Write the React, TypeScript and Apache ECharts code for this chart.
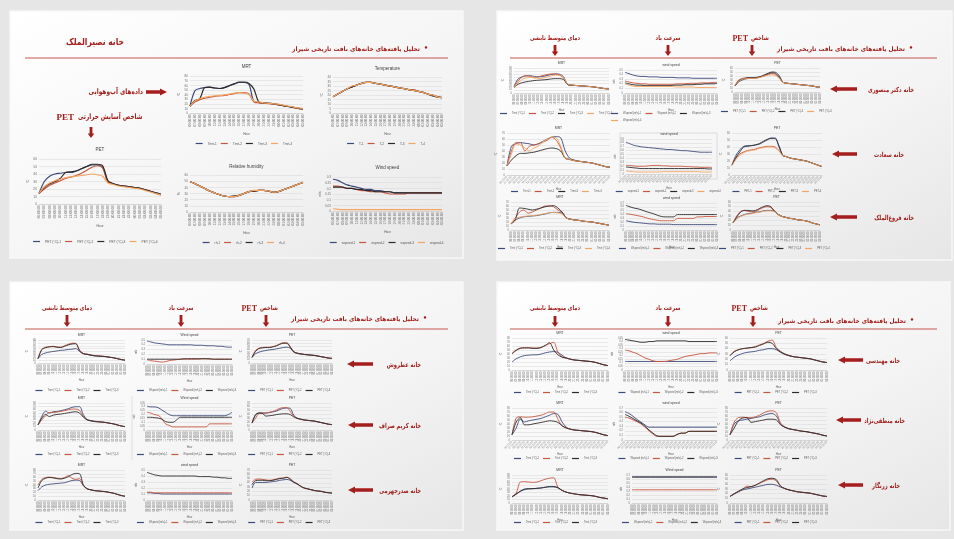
import React, { useEffect, useRef } from 'react';
import * as echarts from 'echarts';

// Hourly time axis shared by every small chart (06:00 through 05:00 next day)
const hours = [
  '06:00:00', '07:00:00', '08:00:00', '09:00:00', '10:00:00', '11:00:00',
  '12:00:00', '13:00:00', '14:00:00', '15:00:00', '16:00:00', '17:00:00',
  '18:00:00', '19:00:00', '20:00:00', '21:00:00', '22:00:00', '23:00:00',
  '00:00:00', '01:00:00', '02:00:00', '03:00:00', '04:00:00', '05:00:00',
];

// ---------- Nasir al-Molk house ----------
const nasirPet = [
  [14, 30, 37, 40, 41, 42, 42, 44, 47, 50, 52, 52, 49, 30, 27, 25, 24, 23, 22, 21, 19, 17, 15, 13],
  [14, 20, 25, 28, 31, 34, 36, 38, 41, 45, 49, 51, 48, 29, 27, 25, 24, 23, 22, 21, 19, 17, 14, 12],
  [14, 22, 27, 30, 34, 42, 43, 44, 47, 50, 53, 53, 51, 31, 27, 25, 24, 23, 22, 21, 19, 17, 15, 13],
  [14, 23, 28, 31, 33, 35, 36, 37, 38, 39, 40, 39, 37, 28, 26, 24, 23, 22, 21, 20, 18, 16, 14, 12],
];
const nasirMrt = [
  [15, 48, 53, 55, 56, 54, 53, 55, 59, 63, 66, 66, 62, 25, 23, 22, 21, 20, 18, 16, 14, 12, 10, 9],
  [15, 24, 29, 32, 34, 36, 37, 38, 40, 42, 44, 44, 41, 24, 22, 21, 20, 19, 18, 16, 14, 12, 10, 9],
  [15, 27, 31, 55, 56, 54, 53, 55, 59, 63, 67, 67, 64, 52, 24, 22, 21, 20, 18, 16, 14, 12, 10, 9],
  [15, 26, 31, 34, 36, 37, 38, 39, 41, 43, 44, 43, 40, 26, 24, 22, 21, 20, 19, 17, 15, 13, 11, 10],
];
const nasirTemp = [
  [18, 21, 24, 27, 29, 31, 33, 34, 34, 33, 32, 31, 30, 29, 28, 27, 26, 25, 24, 23, 21, 20, 18, 17],
  [18, 21, 24, 27, 29, 31, 33, 34, 34, 33, 32, 31, 30, 29, 28, 27, 26, 26, 24, 23, 21, 20, 18, 17],
  [18, 21, 24, 27, 29, 31, 33, 34, 34, 33, 32, 31, 30, 29, 28, 27, 26, 25, 24, 23, 21, 19, 18, 17],
  [18, 21, 24, 27, 30, 31, 33, 34, 34, 33, 32, 31, 30, 29, 28, 27, 26, 25, 24, 23, 21, 20, 18, 17],
];
const nasirRh = [
  [49, 46, 42, 38, 34, 31, 28, 26, 25, 25, 27, 30, 33, 34, 35, 35, 34, 32, 33, 36, 39, 42, 45, 48],
  [49, 46, 42, 38, 34, 31, 28, 26, 25, 25, 27, 30, 33, 34, 35, 35, 34, 32, 33, 36, 39, 42, 45, 48],
  [49, 46, 42, 38, 34, 31, 28, 26, 25, 26, 27, 30, 33, 34, 35, 35, 34, 32, 33, 36, 39, 42, 45, 48],
  [49, 46, 42, 38, 34, 31, 28, 26, 25, 25, 27, 30, 33, 35, 35, 35, 34, 32, 33, 36, 39, 42, 45, 48],
];
const nasirWind = [
  [0.28, 0.27, 0.25, 0.23, 0.22, 0.21, 0.2, 0.19, 0.19, 0.18, 0.18, 0.17, 0.17, 0.16, 0.16, 0.16, 0.16, 0.16, 0.16, 0.16, 0.16, 0.16, 0.16, 0.16],
  [0.22, 0.22, 0.21, 0.2, 0.2, 0.19, 0.18, 0.18, 0.17, 0.17, 0.17, 0.16, 0.15, 0.15, 0.15, 0.15, 0.16, 0.16, 0.16, 0.16, 0.16, 0.16, 0.16, 0.16],
  [0.21, 0.21, 0.21, 0.2, 0.2, 0.19, 0.19, 0.18, 0.18, 0.17, 0.17, 0.17, 0.17, 0.16, 0.16, 0.16, 0.16, 0.16, 0.16, 0.16, 0.16, 0.16, 0.16, 0.16],
  [0.02, 0.015, 0.012, 0.012, 0.012, 0.012, 0.012, 0.012, 0.012, 0.012, 0.012, 0.012, 0.012, 0.012, 0.012, 0.012, 0.012, 0.012, 0.012, 0.012, 0.012, 0.012, 0.012, 0.012],
];

// ---------- Dr. Mansouri house ----------
const mansouriMrt = [
  [22, 45, 52, 55, 55, 53, 52, 53, 56, 59, 61, 60, 52, 27, 25, 24, 23, 22, 21, 20, 18, 16, 14, 13],
  [20, 38, 52, 55, 54, 48, 52, 56, 59, 61, 61, 58, 48, 27, 25, 24, 23, 22, 21, 20, 18, 16, 14, 13],
  [18, 28, 33, 36, 38, 40, 41, 42, 43, 45, 46, 46, 43, 27, 25, 24, 23, 22, 21, 20, 18, 16, 14, 13],
  [18, 32, 44, 48, 50, 50, 46, 48, 51, 55, 57, 56, 50, 28, 26, 24, 23, 22, 21, 20, 18, 16, 14, 13],
];
const mansouriWind = [
  [0.45, 0.42, 0.39, 0.37, 0.36, 0.36, 0.35, 0.35, 0.35, 0.34, 0.34, 0.34, 0.34, 0.33, 0.33, 0.33, 0.33, 0.32, 0.32, 0.32, 0.32, 0.32, 0.32, 0.32],
  [0.26, 0.24, 0.22, 0.21, 0.2, 0.2, 0.19, 0.19, 0.19, 0.19, 0.19, 0.19, 0.19, 0.2, 0.2, 0.2, 0.21, 0.21, 0.21, 0.22, 0.22, 0.22, 0.23, 0.23],
  [0.22, 0.2, 0.18, 0.17, 0.17, 0.16, 0.16, 0.16, 0.16, 0.16, 0.16, 0.16, 0.17, 0.17, 0.17, 0.18, 0.18, 0.18, 0.19, 0.19, 0.2, 0.2, 0.2, 0.21],
  [0.2, 0.17, 0.15, 0.14, 0.14, 0.14, 0.14, 0.14, 0.14, 0.14, 0.14, 0.14, 0.14, 0.13, 0.13, 0.13, 0.13, 0.13, 0.12, 0.12, 0.12, 0.12, 0.12, 0.12],
];
const mansouriPet = [
  [15, 25, 30, 33, 34, 35, 36, 38, 42, 45, 48, 46, 36, 24, 22, 21, 20, 19, 18, 17, 16, 15, 13, 12],
  [16, 30, 34, 35, 35, 34, 35, 38, 40, 44, 46, 44, 35, 24, 22, 21, 20, 19, 18, 17, 16, 15, 13, 12],
  [15, 28, 32, 35, 36, 36, 37, 39, 43, 47, 50, 49, 40, 24, 22, 21, 20, 19, 18, 17, 16, 15, 13, 12],
  [16, 26, 32, 33, 34, 34, 35, 37, 40, 42, 43, 41, 34, 24, 22, 21, 20, 19, 18, 17, 16, 15, 13, 12],
];

// ---------- Saadat house ----------
const saadatMrt = [
  [15, 48, 52, 54, 53, 52, 50, 52, 56, 60, 63, 64, 62, 40, 28, 25, 23, 22, 21, 20, 18, 16, 14, 13],
  [15, 40, 54, 54, 40, 48, 50, 52, 55, 58, 63, 58, 45, 28, 26, 24, 23, 22, 21, 20, 18, 16, 14, 13],
  [15, 25, 32, 36, 36, 37, 38, 40, 42, 44, 45, 44, 40, 28, 26, 24, 23, 22, 21, 20, 18, 16, 14, 13],
  [15, 35, 52, 50, 45, 40, 45, 48, 55, 60, 63, 62, 48, 28, 26, 24, 23, 22, 21, 20, 18, 16, 14, 13],
];
const saadatWind = [
  [0.82, 0.78, 0.74, 0.72, 0.7, 0.69, 0.68, 0.67, 0.66, 0.65, 0.64, 0.63, 0.63, 0.62, 0.61, 0.6, 0.6, 0.59, 0.58, 0.57, 0.56, 0.56, 0.56, 0.56],
  [0.22, 0.22, 0.21, 0.2, 0.2, 0.2, 0.21, 0.22, 0.22, 0.22, 0.21, 0.21, 0.2, 0.2, 0.2, 0.2, 0.19, 0.19, 0.18, 0.18, 0.17, 0.17, 0.17, 0.16],
  [0.18, 0.17, 0.16, 0.15, 0.14, 0.14, 0.14, 0.14, 0.14, 0.14, 0.14, 0.14, 0.14, 0.14, 0.14, 0.14, 0.14, 0.14, 0.14, 0.14, 0.14, 0.14, 0.13, 0.13],
  [0.08, 0.07, 0.06, 0.05, 0.05, 0.05, 0.05, 0.05, 0.05, 0.05, 0.06, 0.06, 0.06, 0.06, 0.06, 0.06, 0.06, 0.06, 0.06, 0.06, 0.05, 0.05, 0.05, 0.05],
];
const saadatPet = [
  [14, 28, 36, 41, 42, 42, 43, 44, 47, 50, 53, 53, 40, 28, 26, 24, 23, 22, 21, 20, 18, 16, 14, 12],
  [14, 24, 30, 33, 35, 36, 37, 39, 40, 41, 41, 40, 35, 28, 26, 24, 23, 22, 21, 20, 18, 16, 14, 12],
  [14, 25, 33, 40, 41, 42, 43, 45, 48, 51, 52, 52, 42, 28, 26, 24, 23, 22, 21, 20, 18, 16, 14, 12],
  [14, 22, 28, 32, 34, 35, 36, 38, 39, 40, 40, 39, 34, 28, 26, 24, 23, 22, 21, 20, 18, 16, 14, 12],
];

// ---------- Forough al-Molk house ----------
const foroughMrt = [
  [15, 25, 30, 33, 34, 35, 36, 38, 40, 43, 44, 44, 42, 30, 27, 25, 24, 22, 21, 20, 18, 16, 14, 12],
  [15, 30, 45, 50, 42, 45, 50, 55, 60, 60, 58, 50, 44, 30, 27, 25, 24, 22, 21, 20, 18, 16, 14, 12],
  [15, 25, 55, 54, 52, 50, 52, 55, 58, 60, 61, 55, 45, 30, 27, 25, 24, 22, 21, 20, 18, 16, 14, 12],
  [15, 28, 32, 34, 35, 36, 37, 39, 41, 43, 44, 43, 40, 30, 27, 25, 24, 22, 21, 20, 18, 16, 14, 12],
];
const foroughWind = [
  [0.24, 0.22, 0.2, 0.19, 0.18, 0.17, 0.16, 0.16, 0.15, 0.15, 0.15, 0.15, 0.14, 0.14, 0.14, 0.14, 0.14, 0.14, 0.14, 0.14, 0.14, 0.14, 0.14, 0.14],
  [0.42, 0.41, 0.39, 0.37, 0.35, 0.32, 0.29, 0.27, 0.25, 0.24, 0.24, 0.24, 0.24, 0.3, 0.3, 0.3, 0.3, 0.3, 0.34, 0.34, 0.35, 0.35, 0.35, 0.35],
  [0.64, 0.6, 0.57, 0.55, 0.52, 0.48, 0.45, 0.42, 0.38, 0.35, 0.34, 0.34, 0.34, 0.4, 0.4, 0.4, 0.4, 0.4, 0.4, 0.4, 0.4, 0.4, 0.4, 0.4],
];
const foroughPet = [
  [15, 25, 30, 33, 35, 36, 38, 39, 41, 42, 42, 40, 33, 29, 27, 25, 24, 22, 21, 20, 18, 15, 13, 11],
  [15, 30, 40, 42, 40, 39, 40, 44, 48, 50, 48, 40, 33, 29, 27, 25, 24, 22, 21, 20, 18, 15, 13, 11],
  [15, 28, 38, 42, 42, 41, 42, 46, 50, 52, 50, 40, 33, 29, 27, 25, 24, 22, 21, 20, 18, 15, 13, 11],
  [15, 24, 29, 32, 34, 35, 37, 38, 40, 41, 41, 39, 33, 29, 27, 25, 24, 22, 21, 20, 18, 15, 13, 11],
];

// ---------- Atrvash house ----------
const atrMrt = [
  [15, 30, 35, 38, 40, 42, 44, 45, 47, 48, 50, 40, 33, 30, 27, 25, 24, 23, 22, 20, 18, 15, 12, 10],
  [15, 48, 55, 57, 58, 56, 55, 60, 65, 69, 68, 45, 33, 31, 28, 26, 25, 24, 22, 20, 18, 15, 12, 10],
  [15, 46, 53, 56, 57, 55, 54, 58, 63, 66, 67, 42, 32, 30, 27, 25, 24, 23, 22, 20, 18, 15, 12, 10],
];
const atrWind = [
  [0.48, 0.46, 0.44, 0.43, 0.42, 0.41, 0.4, 0.4, 0.4, 0.4, 0.4, 0.4, 0.4, 0.39, 0.39, 0.39, 0.38, 0.38, 0.38, 0.37, 0.37, 0.36, 0.35, 0.35],
  [0.09, 0.07, 0.06, 0.05, 0.04, 0.05, 0.07, 0.08, 0.09, 0.1, 0.1, 0.1, 0.1, 0.1, 0.1, 0.11, 0.11, 0.1, 0.1, 0.1, 0.1, 0.1, 0.1, 0.1],
  [0.1, 0.1, 0.1, 0.1, 0.1, 0.1, 0.1, 0.1, 0.1, 0.1, 0.11, 0.11, 0.11, 0.11, 0.11, 0.11, 0.11, 0.11, 0.1, 0.1, 0.1, 0.1, 0.1, 0.1],
];
const atrPet = [
  [17, 28, 33, 36, 38, 40, 41, 43, 45, 47, 48, 45, 33, 29, 27, 26, 25, 24, 23, 21, 19, 17, 15, 14],
  [17, 38, 45, 47, 48, 48, 50, 53, 58, 62, 62, 50, 35, 30, 28, 26, 25, 24, 23, 21, 19, 17, 15, 14],
  [17, 35, 44, 46, 47, 47, 49, 52, 57, 60, 60, 48, 34, 30, 28, 26, 25, 24, 23, 21, 19, 17, 15, 14],
];

// ---------- Karim Saraf house ----------
const karimMrt = [
  [15, 40, 56, 50, 54, 55, 57, 60, 63, 67, 69, 69, 45, 31, 28, 26, 25, 24, 22, 20, 18, 15, 12, 10],
  [15, 30, 42, 52, 52, 53, 55, 57, 60, 62, 62, 58, 40, 30, 27, 25, 24, 23, 22, 20, 18, 15, 12, 10],
  [15, 35, 46, 40, 44, 46, 47, 49, 51, 53, 54, 50, 38, 30, 27, 25, 24, 23, 22, 20, 18, 15, 12, 10],
];
const karimWind = [
  [0.31, 0.3, 0.3, 0.29, 0.26, 0.23, 0.2, 0.185, 0.185, 0.185, 0.185, 0.185, 0.185, 0.185, 0.185, 0.185, 0.185, 0.185, 0.185, 0.185, 0.185, 0.185, 0.2, 0.23],
  [0.23, 0.22, 0.2, 0.19, 0.15, 0.08, 0.06, 0.04, 0.04, 0.04, 0.04, 0.04, 0.04, 0.04, 0.04, 0.04, 0.04, 0.08, 0.08, 0.08, 0.08, 0.08, 0.08, 0.08],
  [0.165, 0.165, 0.16, 0.155, 0.14, 0.11, 0.1, 0.1, 0.13, 0.165, 0.165, 0.165, 0.165, 0.165, 0.165, 0.165, 0.165, 0.165, 0.165, 0.165, 0.165, 0.165, 0.165, 0.165],
];
const karimPet = [
  [18, 38, 44, 44, 44, 45, 47, 49, 53, 56, 57, 56, 38, 31, 28, 26, 25, 24, 23, 21, 19, 17, 15, 14],
  [18, 30, 43, 44, 44, 46, 48, 52, 56, 58, 58, 48, 36, 30, 28, 26, 25, 24, 23, 21, 19, 17, 15, 14],
  [18, 40, 44, 43, 36, 37, 38, 40, 41, 42, 42, 40, 34, 30, 28, 26, 25, 24, 23, 21, 19, 17, 15, 14],
];

// ---------- Sadr Jahromi house ----------
const sadrMrt = [
  [25, 35, 40, 42, 43, 44, 45, 46, 49, 52, 53, 52, 38, 30, 27, 25, 24, 23, 22, 20, 18, 15, 12, 10],
  [40, 55, 60, 61, 60, 58, 57, 60, 65, 58, 55, 57, 38, 30, 27, 25, 24, 23, 22, 20, 18, 15, 12, 10],
  [32, 52, 58, 60, 59, 57, 56, 58, 62, 68, 71, 70, 40, 30, 27, 25, 24, 23, 22, 20, 18, 15, 12, 10],
];
const sadrWind = [
  [0.12, 0.12, 0.11, 0.11, 0.1, 0.1, 0.1, 0.1, 0.1, 0.1, 0.1, 0.1, 0.1, 0.1, 0.1, 0.1, 0.1, 0.1, 0.1, 0.1, 0.1, 0.1, 0.1, 0.1],
  [0.13, 0.13, 0.12, 0.12, 0.12, 0.12, 0.12, 0.12, 0.12, 0.12, 0.12, 0.12, 0.12, 0.12, 0.12, 0.12, 0.12, 0.12, 0.12, 0.12, 0.12, 0.12, 0.12, 0.12],
  [0.46, 0.44, 0.42, 0.41, 0.4, 0.4, 0.4, 0.4, 0.4, 0.4, 0.4, 0.4, 0.4, 0.4, 0.39, 0.39, 0.39, 0.39, 0.38, 0.38, 0.37, 0.37, 0.36, 0.36],
];
const sadrPet = [
  [28, 41, 41, 41, 41, 42, 43, 44, 46, 47, 48, 46, 41, 37, 32, 28, 26, 24, 22, 21, 20, 18, 17, 16],
  [42, 48, 49, 48, 47, 46, 47, 49, 51, 51, 53, 50, 42, 38, 32, 28, 26, 24, 22, 21, 20, 18, 17, 16],
  [36, 45, 46, 46, 45, 45, 46, 48, 50, 51, 53, 48, 42, 38, 32, 28, 26, 24, 22, 21, 20, 18, 17, 16],
];

// ---------- Mohandesi house ----------
const mohMrt = [
  [20, 28, 33, 36, 37, 38, 38, 40, 43, 45, 46, 44, 37, 30, 27, 25, 24, 23, 22, 21, 19, 16, 13, 11],
  [42, 50, 55, 56, 56, 55, 55, 57, 61, 66, 69, 45, 33, 30, 27, 25, 24, 23, 22, 21, 19, 16, 13, 11],
  [40, 49, 54, 55, 55, 54, 54, 56, 62, 68, 50, 38, 32, 30, 27, 25, 24, 23, 22, 21, 19, 16, 13, 11],
];
const mohWind = [
  [0.12, 0.12, 0.12, 0.12, 0.12, 0.12, 0.12, 0.12, 0.12, 0.12, 0.12, 0.12, 0.12, 0.12, 0.12, 0.12, 0.12, 0.12, 0.12, 0.12, 0.12, 0.12, 0.12, 0.12],
  [0.28, 0.27, 0.25, 0.23, 0.2, 0.17, 0.15, 0.13, 0.12, 0.12, 0.12, 0.13, 0.14, 0.15, 0.17, 0.19, 0.2, 0.21, 0.22, 0.23, 0.23, 0.24, 0.24, 0.24],
  [0.43, 0.42, 0.41, 0.4, 0.39, 0.39, 0.4, 0.4, 0.41, 0.41, 0.41, 0.41, 0.41, 0.41, 0.41, 0.41, 0.4, 0.4, 0.4, 0.4, 0.4, 0.4, 0.4, 0.4],
];
const mohPet = [
  [17, 24, 28, 31, 33, 34, 35, 37, 38, 40, 40, 38, 33, 29, 27, 25, 24, 23, 22, 21, 19, 17, 15, 14],
  [27, 35, 38, 40, 41, 42, 44, 47, 50, 54, 56, 42, 35, 30, 27, 25, 24, 23, 22, 21, 19, 17, 15, 14],
  [27, 34, 38, 40, 41, 42, 43, 46, 49, 52, 50, 40, 34, 30, 27, 25, 24, 23, 22, 21, 19, 17, 15, 14],
];

// ---------- Manteghi-Nejad house ----------
const mantMrt = [
  [13, 30, 52, 45, 48, 50, 52, 54, 58, 62, 66, 64, 45, 32, 27, 25, 24, 23, 22, 21, 19, 16, 13, 11],
  [13, 55, 58, 57, 57, 58, 60, 62, 66, 70, 70, 52, 35, 30, 27, 25, 24, 23, 22, 21, 19, 16, 13, 11],
  [13, 45, 56, 38, 38, 40, 42, 44, 46, 48, 47, 44, 36, 30, 27, 25, 24, 23, 22, 21, 19, 16, 13, 11],
];
const mantWind = [
  [0.62, 0.58, 0.52, 0.45, 0.39, 0.33, 0.28, 0.28, 0.28, 0.28, 0.28, 0.28, 0.28, 0.28, 0.28, 0.28, 0.28, 0.28, 0.28, 0.28, 0.28, 0.28, 0.28, 0.28],
  [0.5, 0.48, 0.44, 0.4, 0.35, 0.28, 0.2, 0.13, 0.08, 0.08, 0.08, 0.08, 0.08, 0.12, 0.15, 0.15, 0.19, 0.19, 0.19, 0.19, 0.19, 0.19, 0.19, 0.19],
  [0.56, 0.52, 0.47, 0.42, 0.37, 0.3, 0.22, 0.15, 0.09, 0.08, 0.08, 0.08, 0.08, 0.12, 0.15, 0.15, 0.19, 0.19, 0.19, 0.19, 0.19, 0.19, 0.19, 0.19],
];
const mantPet = [
  [13, 40, 48, 50, 52, 54, 56, 58, 62, 65, 66, 60, 40, 32, 28, 26, 24, 22, 21, 19, 17, 15, 12, 10],
  [13, 45, 56, 57, 56, 56, 58, 62, 68, 72, 73, 68, 42, 33, 28, 26, 24, 22, 21, 19, 17, 15, 12, 10],
  [13, 30, 48, 55, 56, 44, 46, 48, 50, 52, 52, 50, 38, 32, 28, 26, 24, 22, 21, 19, 17, 15, 12, 10],
];

// ---------- Zarnegar house ----------
const zarMrt = [
  [17, 25, 33, 38, 40, 41, 42, 43, 45, 46, 46, 43, 36, 31, 28, 26, 24, 23, 22, 21, 19, 16, 14, 12],
  [18, 28, 60, 61, 60, 59, 60, 64, 68, 71, 72, 45, 36, 31, 28, 26, 24, 23, 22, 21, 19, 16, 14, 12],
  [18, 26, 34, 40, 41, 41, 42, 43, 45, 47, 47, 44, 36, 31, 28, 26, 24, 23, 22, 21, 19, 16, 14, 12],
];
const zarWind = [
  [0.65, 0.65, 0.65, 0.65, 0.65, 0.65, 0.65, 0.65, 0.65, 0.65, 0.65, 0.65, 0.65, 0.65, 0.65, 0.65, 0.65, 0.65, 0.65, 0.65, 0.65, 0.65, 0.65, 0.65],
  [0.33, 0.33, 0.33, 0.33, 0.33, 0.33, 0.33, 0.33, 0.33, 0.33, 0.33, 0.33, 0.33, 0.33, 0.33, 0.33, 0.33, 0.33, 0.33, 0.33, 0.33, 0.33, 0.33, 0.33],
  [0.65, 0.65, 0.65, 0.65, 0.65, 0.65, 0.65, 0.65, 0.65, 0.65, 0.65, 0.65, 0.65, 0.65, 0.65, 0.65, 0.65, 0.65, 0.65, 0.65, 0.65, 0.65, 0.65, 0.65],
];
const zarPet = [
  [14, 19, 24, 28, 30, 32, 34, 36, 38, 40, 40, 38, 34, 31, 28, 26, 24, 23, 22, 21, 19, 17, 15, 14],
  [14, 20, 25, 30, 36, 35, 38, 42, 46, 50, 51, 47, 36, 31, 28, 26, 24, 23, 22, 21, 19, 17, 15, 14],
  [14, 20, 25, 30, 33, 35, 38, 43, 48, 52, 53, 50, 36, 31, 28, 26, 24, 23, 22, 21, 19, 17, 15, 14],
];

// Legend labels
const petNames = ['PET (°C)-1', 'PET (°C)-2', 'PET (°C)-3', 'PET (°C)-4'];
const tmrtNames = ['Tmrt-1', 'Tmrt-2', 'Tmrt-3', 'Tmrt-4'];
const tNames = ['T-1', 'T-2', 'T-3', 'T-4'];
const rhNames = ['rh-1', 'rh-2', 'rh-3', 'rh-4'];
const wsNames = ['wspeed-1', 'wspeed-2', 'wspeed-3', 'wspeed-4'];
const mrtNames = ['Tmrt (°C)-1', 'Tmrt (°C)-2', 'Tmrt (°C)-3', 'Tmrt (°C)-4'];
const windNames = ['Wspeed (m/s)-1', 'Wspeed (m/s)-2', 'Wspeed (m/s)-3', 'Wspeed (m/s)-4'];
const petShort = ['PET-1', 'PET-2', 'PET-3', 'PET-4'];

const COLORS = ['#3b4a7a', '#c8553d', '#2d2929', '#f2a661'];
const RED_TEXT = '#a3201c';
const ARROW_RED = '#a51e1e';
const RULE = '#c6564a';

// Layout of every small chart: [left, top, width, height] in page pixels
const panels = [
  // Nasir al-Molk
  { title: 'PET', box: [39, 159, 122, 45], y: [0, 60, 10], unit: '°C', data: nasirPet, names: petNames, legendTop: 240, fs: 3.3, hourGap: 20, titleGap: 10, tfs: 4.5 },
  { title: 'MRT', box: [190, 76, 113, 37], y: [0, 80, 10], unit: '°C', data: nasirMrt, names: tmrtNames, legendTop: 142, fs: 3.1, hourGap: 19, titleGap: 10, tfs: 4.5 },
  { title: 'Temperature', box: [333, 77, 109, 36], y: [0, 40, 5], unit: '°C', data: nasirTemp, names: tNames, legendTop: 142, fs: 3.1, hourGap: 19, titleGap: 9, tfs: 4.5 },
  { title: 'Relative humidity', box: [190, 175, 113, 37], y: [0, 60, 10], unit: '%', data: nasirRh, names: rhNames, legendTop: 241, fs: 3.1, hourGap: 19, titleGap: 9, tfs: 4.5 },
  { title: 'Wind speed', box: [333, 177, 109, 34], y: [0, 0.3, 0.05], unit: 'm/s', data: nasirWind, names: wsNames, legendTop: 241, fs: 3.1, hourGap: 19, titleGap: 10, tfs: 4.5 },
  // Dr. Mansouri
  { title: 'MRT', box: [514, 68, 95, 25], y: [0, 80, 10], unit: '°C', data: mansouriMrt, names: mrtNames, legendTop: 112 },
  { title: 'wind speed', box: [625, 70, 92, 23], y: [0, 0.5, 0.1], unit: 'm/s', data: mansouriWind, names: windNames, legendTop: 112 },
  { title: 'PET', box: [735, 68, 85, 24], y: [0, 60, 10], unit: '°C', data: mansouriPet, names: petNames, legendTop: 110 },
  // Saadat
  { title: 'MRT', box: [507, 133, 103, 42], y: [0, 70, 10], unit: '°C', data: saadatMrt, names: tmrtNames, legendTop: 190, rotate: 45 },
  { title: 'wind speed', box: [626, 139, 86, 35], y: [0, 0.9, 0.1], unit: 'm/s', data: saadatWind, names: wsNames, legendTop: 190, rotate: 45 },
  { title: 'PET', box: [732, 133, 90, 42], y: [0, 60, 10], unit: '°C', data: saadatPet, names: petShort, legendTop: 190, rotate: 45 },
  // Forough al-Molk
  { title: 'MRT', box: [511, 202, 98, 28], y: [0, 70, 10], unit: '°C', data: foroughMrt, names: mrtNames, legendTop: 247 },
  { title: 'wind speed', box: [626, 203, 91, 27], y: [0, 0.7, 0.1], unit: 'm/s', data: foroughWind, names: windNames, legendTop: 247 },
  { title: 'PET', box: [733, 202, 87, 28], y: [0, 60, 10], unit: '°C', data: foroughPet, names: petNames, legendTop: 247 },
  // Atrvash
  { title: 'MRT', box: [38, 340, 87, 23], y: [0, 80, 10], unit: '°C', data: atrMrt, names: mrtNames, legendTop: 389 },
  { title: 'Wind speed', box: [147, 340, 85, 24], y: [0, 0.5, 0.1], unit: 'm/s', data: atrWind, names: windNames, legendTop: 389 },
  { title: 'PET', box: [252, 340, 80, 23], y: [0, 70, 10], unit: '°C', data: atrPet, names: petNames, legendTop: 389 },
  // Karim Saraf
  { title: 'MRT', box: [38, 403, 87, 27], y: [0, 80, 10], unit: '°C', data: karimMrt, names: mrtNames, legendTop: 453 },
  { title: 'Wind speed', box: [147, 403, 85, 27], y: [0, 0.35, 0.05], unit: 'm/s', data: karimWind, names: windNames, legendTop: 453 },
  { title: 'PET', box: [252, 403, 80, 27], y: [0, 70, 10], unit: '°C', data: karimPet, names: petNames, legendTop: 453 },
  // Sadr Jahromi
  { title: 'MRT', box: [38, 470, 87, 30], y: [0, 80, 10], unit: '°C', data: sadrMrt, names: mrtNames, legendTop: 521 },
  { title: 'wind speed', box: [147, 470, 85, 30], y: [0, 0.5, 0.1], unit: 'm/s', data: sadrWind, names: windNames, legendTop: 521 },
  { title: 'PET', box: [252, 470, 80, 30], y: [0, 70, 10], unit: '°C', data: sadrPet, names: petNames, legendTop: 521 },
  // Mohandesi
  { title: 'MRT', box: [512, 338, 96, 32], y: [0, 80, 10], unit: '°C', data: mohMrt, names: mrtNames, legendTop: 391 },
  { title: 'wind speed', box: [625, 338, 92, 32], y: [0, 0.45, 0.05], unit: 'm/s', data: mohWind, names: windNames, legendTop: 391 },
  { title: 'PET', box: [730, 338, 97, 32], y: [0, 60, 10], unit: '°C', data: mohPet, names: petNames, legendTop: 391 },
  // Manteghi-Nejad
  { title: 'MRT', box: [512, 408, 96, 32], y: [0, 80, 10], unit: '°C', data: mantMrt, names: mrtNames, legendTop: 457, rotate: 45 },
  { title: 'wind speed', box: [625, 408, 92, 32], y: [0, 0.7, 0.1], unit: 'm/s', data: mantWind, names: windNames, legendTop: 457, rotate: 45 },
  { title: 'PET', box: [730, 408, 97, 32], y: [0, 80, 10], unit: '°C', data: mantPet, names: petNames, legendTop: 457, rotate: 45 },
  // Zarnegar
  { title: 'MRT', box: [512, 475, 96, 28], y: [0, 80, 10], unit: '°C', data: zarMrt, names: mrtNames, legendTop: 521 },
  { title: 'Wind speed', box: [632, 475, 85, 28], y: [0, 0.7, 0.1], unit: 'm/s', data: zarWind, names: windNames, legendTop: 521 },
  { title: 'PET', box: [730, 475, 97, 28], y: [0, 60, 10], unit: '°C', data: zarPet, names: petNames, legendTop: 521 },
];

function legendWidth(names: string[], fs: number) {
  return names.reduce((s, n) => s + 7 + 5 + n.length * fs * 0.56, 0) + 4 * (names.length - 1);
}

// Persian heading text, squeezed horizontally around its anchor point
const fa = (text: string, x: number, y: number, size: number, align = 'center', sx = 0.78) => ({
  type: 'text', z: 20, x, y, scaleX: sx,
  style: { text, x: 0, y: 0, fill: RED_TEXT, fontSize: size, fontWeight: 'bold', fontFamily: 'DejaVu Sans', textAlign: align, textVerticalAlign: 'middle' },
});
const serif = (text: string, x: number, y: number, size: number, align = 'center') => ({
  type: 'text', z: 20,
  style: { text, x, y, fill: RED_TEXT, fontSize: size, fontWeight: 'bold', fontFamily: 'Liberation Serif', textAlign: align, textVerticalAlign: 'middle' },
});
const rule = (x1: number, x2: number, y: number) => ({
  type: 'line', z: 20, shape: { x1, y1: y, x2, y2: y }, style: { stroke: RULE, lineWidth: 1 },
});
const arrowLeft = (x0: number, x1: number, y: number) => ({
  type: 'polygon', z: 20,
  shape: { points: [[x0, y], [x0 + 7, y - 3.6], [x0 + 7, y - 1.7], [x1, y - 1.7], [x1, y + 1.7], [x0 + 7, y + 1.7], [x0 + 7, y + 3.6]] },
  style: { fill: ARROW_RED },
});
const arrowRight = (x0: number, x1: number, y: number) => ({
  type: 'polygon', z: 20,
  shape: { points: [[x1, y], [x1 - 7, y - 3.6], [x1 - 7, y - 1.7], [x0, y - 1.7], [x0, y + 1.7], [x1 - 7, y + 1.7], [x1 - 7, y + 3.6]] },
  style: { fill: ARROW_RED },
});
const arrowDown = (x: number, y0: number, y1: number) => ({
  type: 'polygon', z: 20,
  shape: { points: [[x, y1], [x - 3.3, y1 - 4.5], [x - 1.4, y1 - 4.5], [x - 1.4, y0], [x + 1.4, y0], [x + 1.4, y1 - 4.5], [x + 3.3, y1 - 4.5]] },
  style: { fill: ARROW_RED },
});
const slide = (x: number, y: number, w: number, h: number) => ({
  type: 'rect', z: -10, shape: { x, y, width: w, height: h },
  style: {
    fill: new echarts.graphic.LinearGradient(0, 0, 1, 1, [
      { offset: 0, color: '#ffffff' },
      { offset: 0.6, color: '#f4f4f4' },
      { offset: 1, color: '#e6e6e6' },
    ]),
    stroke: '#f8f8f8', lineWidth: 1.5,
  },
});

const SUBTITLE = 'تحلیل یافته‌های خانه‌های بافت تاریخی شیراز';

// Column headers shared by the three comparison slides
function columnHeads(mrtX: number, windX: number, petX: number, arrowPet: number, y: number, ay0: number, ay1: number) {
  return [
    fa('دمای متوسط تابشی', mrtX, y, 6.5, 'center', 0.77),
    arrowDown(mrtX, ay0, ay1),
    fa('سرعت باد', windX, y, 6.5, 'center', 0.77),
    arrowDown(windX, ay0, ay1),
    serif('PET', petX - 1, y, 8, 'right'),
    fa('شاخص', petX + 2, y, 6.5, 'left', 0.8),
    arrowDown(arrowPet, ay0, ay1),
  ];
}

function buildGraphics() {
  return [
    { type: 'rect', z: -20, shape: { x: 0, y: 0, width: 954, height: 539 }, style: { fill: '#e6e6e6' } },
    slide(10, 11, 453, 247),
    slide(497, 11, 455, 249),
    slide(10, 282, 453, 248),
    slide(497, 282, 453, 248),

    // Slide: Nasir al-Molk
    fa('خانه نصیرالملک', 95, 42, 9.5, 'center', 0.8),
    fa('•', 426, 48, 7, 'center', 1),
    fa(SUBTITLE, 420, 48, 6.3, 'right', 0.93),
    rule(25, 448, 58),
    fa('داده‌های آب‌وهوایی', 143, 92, 7.5, 'right', 0.78),
    arrowRight(146, 167, 92),
    serif('PET', 74, 117, 9, 'right'),
    fa('شاخص آسایش حرارتی', 78, 117, 7.5, 'left', 0.76),
    arrowDown(91, 127, 138),

    // Slide: Mansouri / Saadat / Forough al-Molk
    ...columnHeads(555, 668, 749, 752, 38, 45, 56),
    fa('•', 911, 48, 7, 'center', 1),
    fa(SUBTITLE, 905, 48, 6.3, 'right', 0.93),
    rule(510, 937, 58),
    arrowLeft(830, 857, 89), fa('خانه دکتر منصوری', 914, 89, 6.8, 'right', 0.75),
    arrowLeft(832, 857, 154), fa('خانه سعادت', 904, 154, 6.8, 'right', 0.75),
    arrowLeft(830, 857, 217), fa('خانه فروغ‌الملک', 914, 217, 6.8, 'right', 0.75),
    { type: 'rect', z: 1, shape: { x: 620, y: 133, width: 97, height: 46 }, style: { fill: 'none', stroke: '#c9c9c9', lineWidth: 0.6 } },

    // Slide: Atrvash / Karim Saraf / Sadr Jahromi
    ...columnHeads(67, 181, 258, 266, 308, 315, 327),
    fa('•', 425, 318, 7, 'center', 1),
    fa(SUBTITLE, 419, 318, 6.3, 'right', 0.93),
    rule(25, 448, 329),
    arrowLeft(347, 373, 364), fa('خانه عطروش', 421, 364, 6.8, 'right', 0.75),
    arrowLeft(348, 373, 425), fa('خانه کریم صراف', 421, 425, 6.8, 'right', 0.75),
    arrowLeft(348, 373, 490), fa('خانه صدرجهرمی', 421, 490, 6.8, 'right', 0.75),
    { type: 'line', z: 1, shape: { x1: 132, y1: 396, x2: 132, y2: 460 }, style: { stroke: '#d2d2d2', lineWidth: 0.6 } },

    // Slide: Mohandesi / Manteghi-Nejad / Zarnegar
    ...columnHeads(555, 668, 748, 753, 308, 316, 327),
    fa('•', 912, 320, 7, 'center', 1),
    fa(SUBTITLE, 906, 320, 6.3, 'right', 0.93),
    rule(510, 937, 329),
    arrowLeft(838, 863, 360), fa('خانه مهندسی', 900, 360, 6.8, 'right', 0.75),
    arrowLeft(836, 861, 420), fa('خانه منطقی‌نژاد', 905, 420, 6.8, 'right', 0.75),
    arrowLeft(838, 863, 485), fa('خانه زرنگار', 900, 485, 6.8, 'right', 0.75),
  ];
}

function buildOption() {
  const grid: any[] = [];
  const xAxis: any[] = [];
  const yAxis: any[] = [];
  const series: any[] = [];
  const legend: any[] = [];
  const titles: any[] = [];

  panels.forEach((p: any, i: number) => {
    const [l, t, w, h] = p.box;
    const fs = p.fs ?? 2.6;
    const big = fs > 3;
    grid.push({ left: l, top: t, width: w, height: h });
    xAxis.push({
      type: 'category', gridIndex: i, data: hours, boundaryGap: false,
      axisLine: { lineStyle: { color: '#c4c4c4', width: 0.5 } },
      axisTick: { show: false },
      axisLabel: { interval: 0, rotate: p.rotate ?? 90, fontSize: fs, color: '#6f6f6f', margin: 1.5 },
      name: 'Hour', nameLocation: 'middle', nameGap: p.hourGap ?? (p.rotate ? 11 : 14.5),
      nameTextStyle: { fontSize: fs, color: '#595959' },
    });
    yAxis.push({
      type: 'value', gridIndex: i, min: p.y[0], max: p.y[1], interval: p.y[2],
      axisLine: { show: false }, axisTick: { show: false },
      axisLabel: { fontSize: fs, color: '#6f6f6f', margin: 2 },
      splitLine: { lineStyle: { color: '#d6d6d6', width: 0.5 } },
      name: p.unit, nameLocation: 'middle', nameRotate: 90, nameGap: big ? 10 : 8,
      nameTextStyle: { fontSize: fs, color: '#595959' },
    });
    p.data.forEach((d: number[], k: number) => {
      series.push({
        type: 'line', name: p.names[k], xAxisIndex: i, yAxisIndex: i, data: d,
        smooth: 0.3, symbol: 'none', showSymbol: false,
        lineStyle: { width: big ? 1.2 : 0.9, color: COLORS[k] },
        itemStyle: { color: COLORS[k] },
      });
    });
    const names = p.names.slice(0, p.data.length);
    const maxW = w + 28;
    const lw = Math.min(legendWidth(names, fs), maxW);
    legend.push({
      data: names, top: p.legendTop, left: l + w / 2 - lw / 2, width: maxW,
      icon: 'rect', itemWidth: 7, itemHeight: 1.2, itemGap: 4, padding: 0,
      selectedMode: false,
      textStyle: { fontSize: fs, color: '#595959' },
    });
    titles.push({
      type: 'text', z: 20,
      style: {
        text: p.title, x: l + w / 2, y: t - (p.titleGap ?? 5),
        fill: '#404040', fontSize: p.tfs ?? 3.4, fontFamily: 'Liberation Sans',
        textAlign: 'center', textVerticalAlign: 'middle',
      },
    });
  });

  return {
    animation: false,
    textStyle: { fontFamily: 'Liberation Sans' },
    graphic: [...buildGraphics(), ...titles],
    grid, xAxis, yAxis, series, legend,
  };
}

export default function App() {
  const ref = useRef<HTMLDivElement>(null);
  useEffect(() => {
    if (!ref.current) return;
    const chart = echarts.init(ref.current, undefined, { renderer: 'svg' });
    chart.setOption(buildOption());
    return () => chart.dispose();
  }, []);
  return (
    <div
      ref={ref}
      style={{ position: 'fixed', left: 0, top: 0, width: 954, height: 539 }}
    />
  );
}
